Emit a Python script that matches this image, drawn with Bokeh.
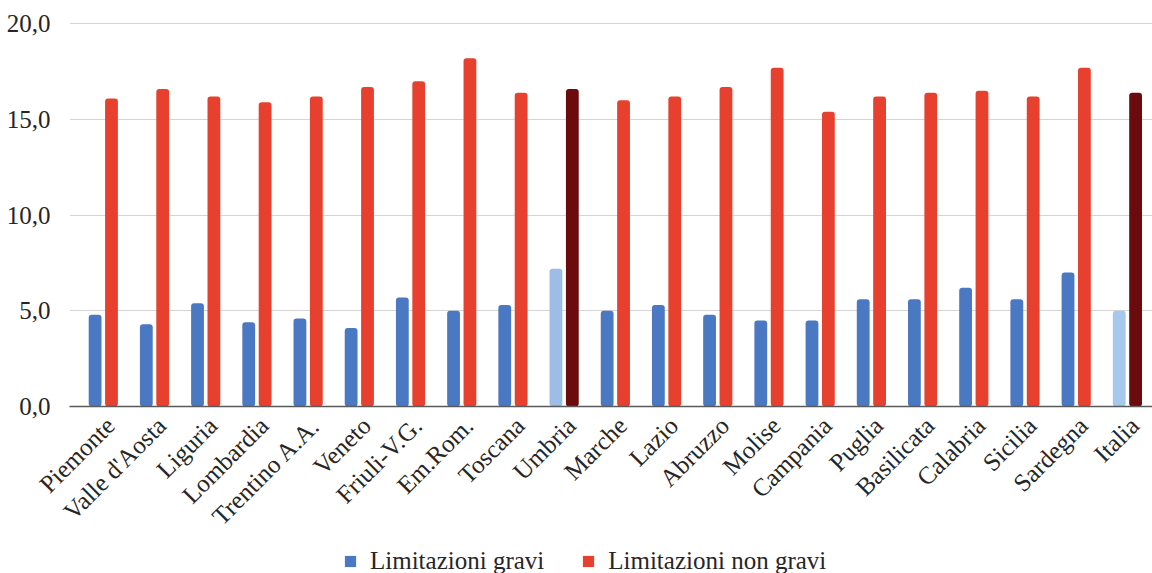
from math import pi

from bokeh.embed import file_html
from bokeh.resources import INLINE
from bokeh.layouts import column
from bokeh.plotting import figure
from bokeh.models import (ColumnDataSource, FixedTicker, Range1d, Legend,
                          LegendItem)
from bokeh.transform import dodge

# Regions (plus the national value), share of people with limitations (%)
regions = ["Piemonte", "Valle d'Aosta", "Liguria", "Lombardia", "Trentino A.A.",
           "Veneto", "Friuli-V.G.", "Em.Rom.", "Toscana", "Umbria", "Marche",
           "Lazio", "Abruzzo", "Molise", "Campania", "Puglia", "Basilicata",
           "Calabria", "Sicilia", "Sardegna", "Italia"]
gravi = [4.8, 4.3, 5.4, 4.4, 4.6, 4.1, 5.7, 5.0, 5.3, 7.2, 5.0,
         5.3, 4.8, 4.5, 4.5, 5.6, 5.6, 6.2, 5.6, 7.0, 5.0]
non_gravi = [16.1, 16.6, 16.2, 15.9, 16.2, 16.7, 17.0, 18.2, 16.4, 16.6, 16.0,
             16.2, 16.7, 17.7, 15.4, 16.2, 16.4, 16.5, 16.2, 17.7, 16.4]
y_ticks = [0, 5, 10, 15, 20]
y_tick_labels = ["0,0", "5,0", "10,0", "15,0", "20,0"]
series_names = ["Limitazioni gravi", "Limitazioni non gravi"]

BLUE = "#4a78c2"
RED = "#e8402f"
highlight_blue = {"Umbria": "#9dbde6", "Italia": "#a6c8ec"}
highlight_red = {"Umbria": "#6b0b0e", "Italia": "#6b0b0e"}

FONT = "Liberation Serif"
TEXT = "#262626"
W = 1152
H_CHART = 545
H_LEGEND = 28

source = ColumnDataSource(dict(
    idx=list(range(len(regions))),
    region=regions,
    gravi=gravi,
    non_gravi=non_gravi,
    c_gravi=[highlight_blue.get(r, BLUE) for r in regions],
    c_non_gravi=[highlight_red.get(r, RED) for r in regions],
))

p = figure(width=W, height=H_CHART, output_backend="svg", toolbar_location=None,
           x_range=Range1d(-0.66, 20.49), y_range=Range1d(0, 20.54),
           min_border_left=69, min_border_right=0, min_border_top=13,
           min_border_bottom=H_CHART - 406)
p.outline_line_color = None
p.background_fill_color = "white"
p.border_fill_color = "white"

bw = 0.25
p.vbar(x=dodge("idx", -0.16), top="gravi", width=bw, source=source,
       fill_color="c_gravi", line_color=None, border_radius=3)
p.vbar(x=dodge("idx", 0.16), top="non_gravi", width=bw, source=source,
       fill_color="c_non_gravi", line_color=None, border_radius=3)

# x axis: one rotated label per region, anchored just right of the bar pair
label_shift = 0.14
label_pos = [i + label_shift for i in range(len(regions))]
p.xaxis.ticker = FixedTicker(ticks=label_pos)
p.xaxis.major_label_overrides = dict(zip(label_pos, regions))
p.xaxis.major_label_orientation = pi / 4
p.xaxis.major_label_text_font = FONT
p.xaxis.major_label_text_font_size = "25px"
p.xaxis.major_label_text_color = TEXT
p.xaxis.major_label_standoff = 9
p.xaxis.major_tick_line_color = None
p.xaxis.minor_tick_line_color = None
p.xaxis.axis_line_color = "#5a5a5a"
p.xaxis.axis_line_width = 1.6
p.xgrid.grid_line_color = None

# y axis: comma decimal labels, light horizontal grid
p.yaxis.ticker = FixedTicker(ticks=y_ticks)
p.yaxis.major_label_overrides = dict(zip(y_ticks, y_tick_labels))
p.yaxis.major_label_text_font = FONT
p.yaxis.major_label_text_font_size = "25px"
p.yaxis.major_label_text_color = TEXT
p.yaxis.major_label_standoff = 13
p.yaxis.major_tick_line_color = None
p.yaxis.minor_tick_line_color = None
p.yaxis.axis_line_color = None
p.ygrid.ticker = FixedTicker(ticks=y_ticks)
p.ygrid.grid_line_color = "#d4d4d4"
p.ygrid.grid_line_width = 1.2

# legend strip underneath the chart; its swatch renderers sit outside the view.
# The column aligns this strip's frame with the chart frame (left edge at 69px).
lg = figure(width=W, height=H_LEGEND, output_backend="svg", toolbar_location=None,
            x_range=Range1d(0, 1), y_range=Range1d(0, 1),
            x_axis_location=None, y_axis_location=None, min_border=0)
lg.grid.visible = False
lg.outline_line_color = None
r_g = lg.quad(left=[-3], right=[-2], bottom=[-3], top=[-2],
              fill_color=BLUE, line_color=None)
r_ng = lg.quad(left=[-3], right=[-2], bottom=[-3], top=[-2],
               fill_color=RED, line_color=None)

legend = Legend(items=[
    LegendItem(label=series_names[0], renderers=[r_g]),
    LegendItem(label=series_names[1], renderers=[r_ng]),
], orientation="horizontal", location=(274, -2))
legend.label_text_font = FONT
legend.label_text_font_size = "25px"
legend.label_text_color = TEXT
legend.glyph_width = 14
legend.glyph_height = 14
legend.label_standoff = 13
legend.spacing = 37
legend.padding = 0
legend.margin = 0
legend.border_line_color = None
legend.background_fill_alpha = 0
lg.add_layout(legend, "center")

layout = column(p, lg, spacing=0)
open("out.html", "w").write(file_html(layout, INLINE))
